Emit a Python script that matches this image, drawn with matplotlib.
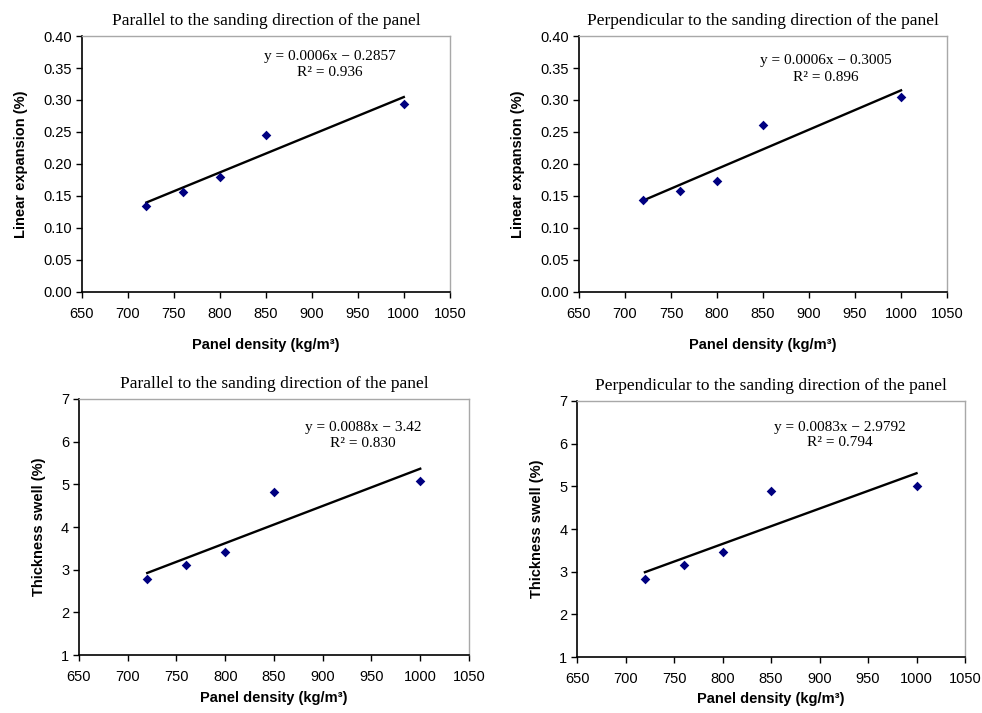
import numpy as np
import matplotlib
matplotlib.use("Agg")
import matplotlib.pyplot as plt

density = [720, 760, 800, 850, 1000]
lin_par = [0.135, 0.157, 0.179, 0.246, 0.294]
lin_perp = [0.144, 0.158, 0.174, 0.261, 0.304]
ts_par = [2.79, 3.12, 3.41, 4.83, 5.09]
ts_perp = [2.84, 3.15, 3.45, 4.88, 5.01]

title_par = "Parallel to the sanding direction of the panel"
title_perp = "Perpendicular to the sanding direction of the panel"
eq_lin_par = ("y = 0.0006x \u2212 0.2857", "R\u00b2 = 0.936")
eq_lin_perp = ("y = 0.0006x \u2212 0.3005", "R\u00b2 = 0.896")
eq_ts_par = ("y = 0.0088x \u2212 3.42", "R\u00b2 = 0.830")
eq_ts_perp = ("y = 0.0083x \u2212 2.9792", "R\u00b2 = 0.794")

xticks = [650, 700, 750, 800, 850, 900, 950, 1000, 1050]
lin_ticks = [0.00, 0.05, 0.10, 0.15, 0.20, 0.25, 0.30, 0.35, 0.40]
ts_ticks = [1, 2, 3, 4, 5, 6, 7]

plt.rcParams['font.family'] = ['Liberation Sans', 'DejaVu Sans']

fig = plt.figure(figsize=(9.82, 7.13), dpi=100)

panels = [
    ([0.0835, 0.5905, 0.3745, 0.359], lin_par, title_par, eq_lin_par, "Linear expansion (%)", lin_ticks, "{:.2f}", (0.674, 0.918, 0.859), 12),
    ([0.5896, 0.5905, 0.3748, 0.359], lin_perp, title_perp, eq_lin_perp, "Linear expansion (%)", lin_ticks, "{:.2f}", (0.671, 0.906, 0.836), 12),
    ([0.0804, 0.0813, 0.3972, 0.3591], ts_par, title_par, eq_ts_par, "Thickness swell (%)", ts_ticks, "{:d}", (0.728, 0.89, 0.828), 5),
    ([0.5876, 0.0785, 0.3951, 0.3591], ts_perp, title_perp, eq_ts_perp, "Thickness swell (%)", ts_ticks, "{:d}", (0.678, 0.895, 0.836), 4),
]

for rect, yv, title, eq, ylabel, yt, fmt, tpos, xpad in panels:
    ax = fig.add_axes(rect)
    ax.scatter(density, yv, marker='D', s=24, color='#000080', zorder=3, linewidths=0)
    coef = np.polyfit(density, yv, 1)
    xs = np.array([min(density), max(density)])
    ax.plot(xs, np.polyval(coef, xs), color='black', lw=1.7, zorder=2)
    ax.set_xlim(xticks[0], xticks[-1])
    ax.set_ylim(yt[0], yt[-1])
    ax.set_xticks(xticks)
    ax.set_yticks(yt)
    ax.set_yticklabels([fmt.format(v) for v in yt])
    ax.tick_params(direction='out', length=4, width=1, labelsize=10.5, colors='black')
    ax.tick_params(axis='x', pad=7)
    ax.tick_params(axis='y', pad=3)
    for s in ['left', 'bottom']:
        ax.spines[s].set_color('black')
        ax.spines[s].set_linewidth(1.2)
    for s in ['top', 'right']:
        ax.spines[s].set_color('#a8a8a8')
        ax.spines[s].set_linewidth(1.0)
    ax.set_title(title, family=['Liberation Serif', 'DejaVu Serif'], fontsize=12.5, pad=8)
    ax.set_ylabel(ylabel, fontsize=10.5, fontweight='bold', labelpad=11)
    ax.set_xlabel("Panel density (kg/m\u00b3)", fontsize=10.5, fontweight='bold', labelpad=xpad)
    ax.text(tpos[0], tpos[1], eq[0], transform=ax.transAxes, ha='center', va='center',
            family=['Liberation Serif', 'DejaVu Serif'], fontsize=11)
    ax.text(tpos[0], tpos[2], eq[1], transform=ax.transAxes, ha='center', va='center',
            family=['Liberation Serif', 'DejaVu Serif'], fontsize=11)

fig.savefig("out.png", dpi=100)
